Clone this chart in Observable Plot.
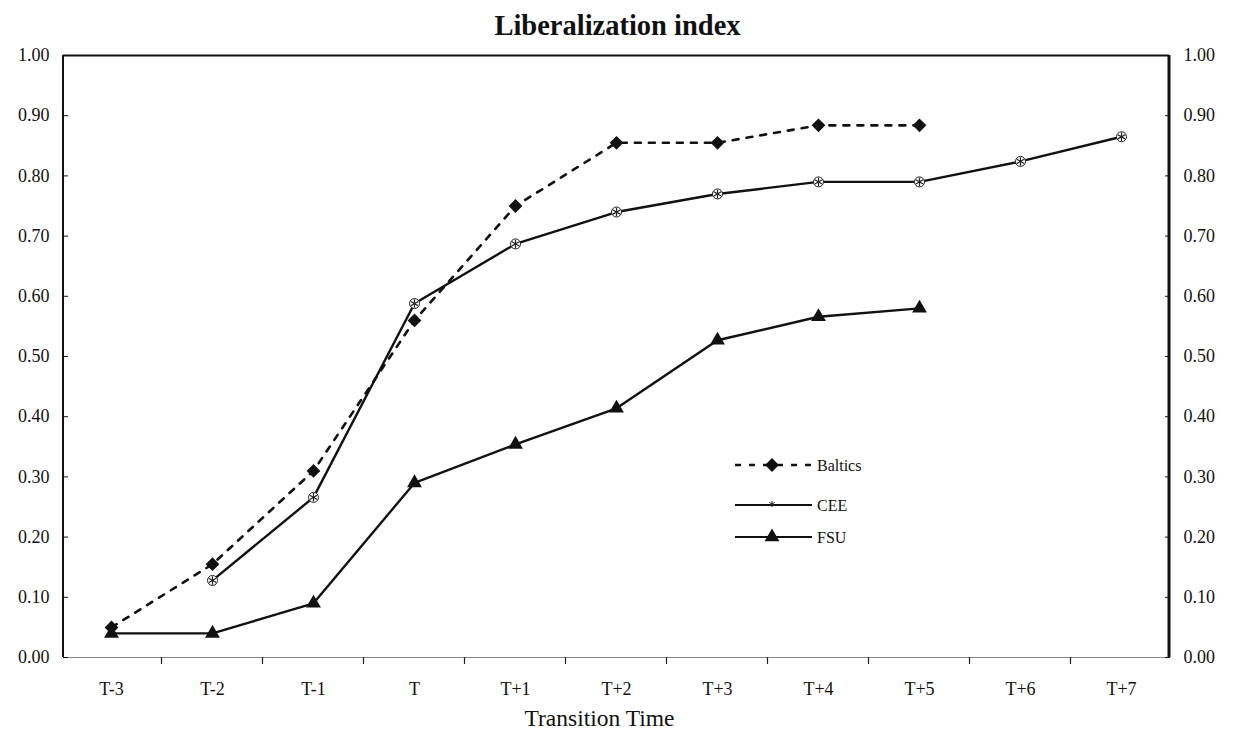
<!DOCTYPE html>
<html>
<head>
<meta charset="utf-8">
<script src="https://cdn.jsdelivr.net/npm/d3@7"></script>
<script src="https://cdn.jsdelivr.net/npm/@observablehq/plot@0.6"></script>
<style>
  body { margin: 0; background: #fff; }
  #title { width: 1235px; height: 40px; box-sizing: border-box; padding-top: 10px; line-height: 28px;
           text-align: center; font: bold 28.5px "Liberation Serif", "Times New Roman", serif; color: #111; }
  #chart svg { display: block; }
</style>
</head>
<body>
<div id="title">Liberalization index</div>
<div id="chart"></div>
<script>
const categories = ["T-3","T-2","T-1","T","T+1","T+2","T+3","T+4","T+5","T+6","T+7"];
const baltics = [0.05, 0.155, 0.31, 0.56, 0.75, 0.855, 0.855, 0.884, 0.884, null, null];
const cee     = [null, 0.128, 0.266, 0.588, 0.687, 0.74, 0.77, 0.79, 0.79, 0.824, 0.865];
const fsu     = [0.04, 0.04, 0.09, 0.29, 0.354, 0.414, 0.527, 0.566, 0.58, null, null];
const yTicks  = [0, 0.1, 0.2, 0.3, 0.4, 0.5, 0.6, 0.7, 0.8, 0.9, 1.0];
const seriesNames = ["Baltics", "CEE", "FSU"];

const toRows = (vals, name) => categories.map((c, i) => ({cat: c, value: vals[i], series: name})).filter(d => d.value != null);
const bRows = toRows(baltics, seriesNames[0]);
const cRows = toRows(cee, seriesNames[1]);
const fRows = toRows(fsu, seriesNames[2]);

const W = 1235, H = 700, ML = 63, MR = 66, MT = 15, MB = 83;
const fmt = d3.format(".2f");
const font = "'Liberation Serif', 'Times New Roman', serif";

const plot = Plot.plot({
  width: W, height: H,
  marginLeft: ML, marginRight: MR, marginTop: MT, marginBottom: MB,
  style: {fontFamily: font, fontSize: "18px", background: "white", color: "#111"},
  x: {type: "point", domain: categories, padding: 0.46, label: null},
  y: {domain: [0, 1], label: null},
  marks: [
    Plot.ruleY([0], {stroke: "#888", strokeWidth: 1}),
    Plot.ruleY([1], {stroke: "#111", strokeWidth: 2}),
    Plot.axisX({tickSize: 0, tickPadding: 25, fontSize: 18}),
    Plot.axisY(yTicks, {anchor: "left", tickSize: -5, tickPadding: 19, tickFormat: fmt, fontSize: 18}),
    Plot.axisY(yTicks, {anchor: "right", tickSize: -5, tickPadding: 19, tickFormat: fmt, fontSize: 18}),
    Plot.line(bRows, {x: "cat", y: "value", stroke: "#111", strokeWidth: 2.6, strokeDasharray: "6,8"}),
    Plot.line(cRows, {x: "cat", y: "value", stroke: "#111", strokeWidth: 2.4}),
    Plot.line(fRows, {x: "cat", y: "value", stroke: "#111", strokeWidth: 2.4}),
    Plot.dot(bRows, {x: "cat", y: "value", symbol: "diamond2", r: 6.2, fill: "#111", stroke: "none"}),
    Plot.dot(cRows, {x: "cat", y: "value", r: 5, fill: "white", stroke: "#222", strokeWidth: 1}),
    Plot.dot(cRows, {x: "cat", y: "value", symbol: "asterisk", r: 4, stroke: "#222", strokeWidth: 1.2}),
    Plot.dot(fRows, {x: "cat", y: "value", symbol: "triangle", r: 5.5, fill: "#111", stroke: "none"}),
    Plot.text(["Transition Time"], {frameAnchor: "bottom", dx: -17, dy: 68, fontSize: 23.5, fill: "#111"})
  ]
});
document.getElementById("chart").appendChild(plot);

// frame sides, bottom ticks and legend
const svg = d3.select(plot);
const xs = plot.scale("x");
const step = xs.apply(categories[1]) - xs.apply(categories[0]);
const y0 = H - MB;
svg.append("line").attr("x1", ML).attr("x2", ML).attr("y1", MT).attr("y2", y0)
  .attr("stroke", "#111").attr("stroke-width", 2);
svg.append("line").attr("x1", W - MR).attr("x2", W - MR).attr("y1", MT).attr("y2", y0)
  .attr("stroke", "#111").attr("stroke-width", 3);
categories.slice(1).forEach(c => {
  const x = xs.apply(c) - step / 2;
  svg.append("line").attr("x1", x).attr("x2", x).attr("y1", y0).attr("y2", y0 + 7)
    .attr("stroke", "#222").attr("stroke-width", 1.2);
});

const lg = svg.append("g").attr("font-family", font).attr("font-size", 16).attr("fill", "#111")
  .attr("text-anchor", "start");
const legendRows = [
  {name: seriesNames[0], y: 425, dash: "6,8", sym: d3.symbolDiamond2, r: 6.2},
  {name: seriesNames[1], y: 465, dash: null, sym: null, r: 0},
  {name: seriesNames[2], y: 497, dash: null, sym: d3.symbolTriangle, r: 5.5}
];
legendRows.forEach(row => {
  const l = lg.append("line").attr("x1", 735).attr("x2", 812).attr("y1", row.y).attr("y2", row.y)
    .attr("stroke", "#111").attr("stroke-width", row.dash ? 2.6 : 2);
  if (row.dash) l.attr("stroke-dasharray", row.dash);
  if (row.sym) {
    lg.append("path").attr("d", d3.symbol(row.sym, Math.PI * row.r * row.r)())
      .attr("transform", `translate(772,${row.y})`).attr("fill", "#111");
  } else {
    lg.append("path").attr("d", d3.symbol(d3.symbolAsterisk, Math.PI * 9)())
      .attr("transform", `translate(772,${row.y - 1})`).attr("stroke", "#222").attr("stroke-width", 1).attr("fill", "none");
  }
  lg.append("text").attr("x", 817).attr("y", row.y).attr("dy", "0.35em").text(row.name);
});
</script>
</body>
</html>
